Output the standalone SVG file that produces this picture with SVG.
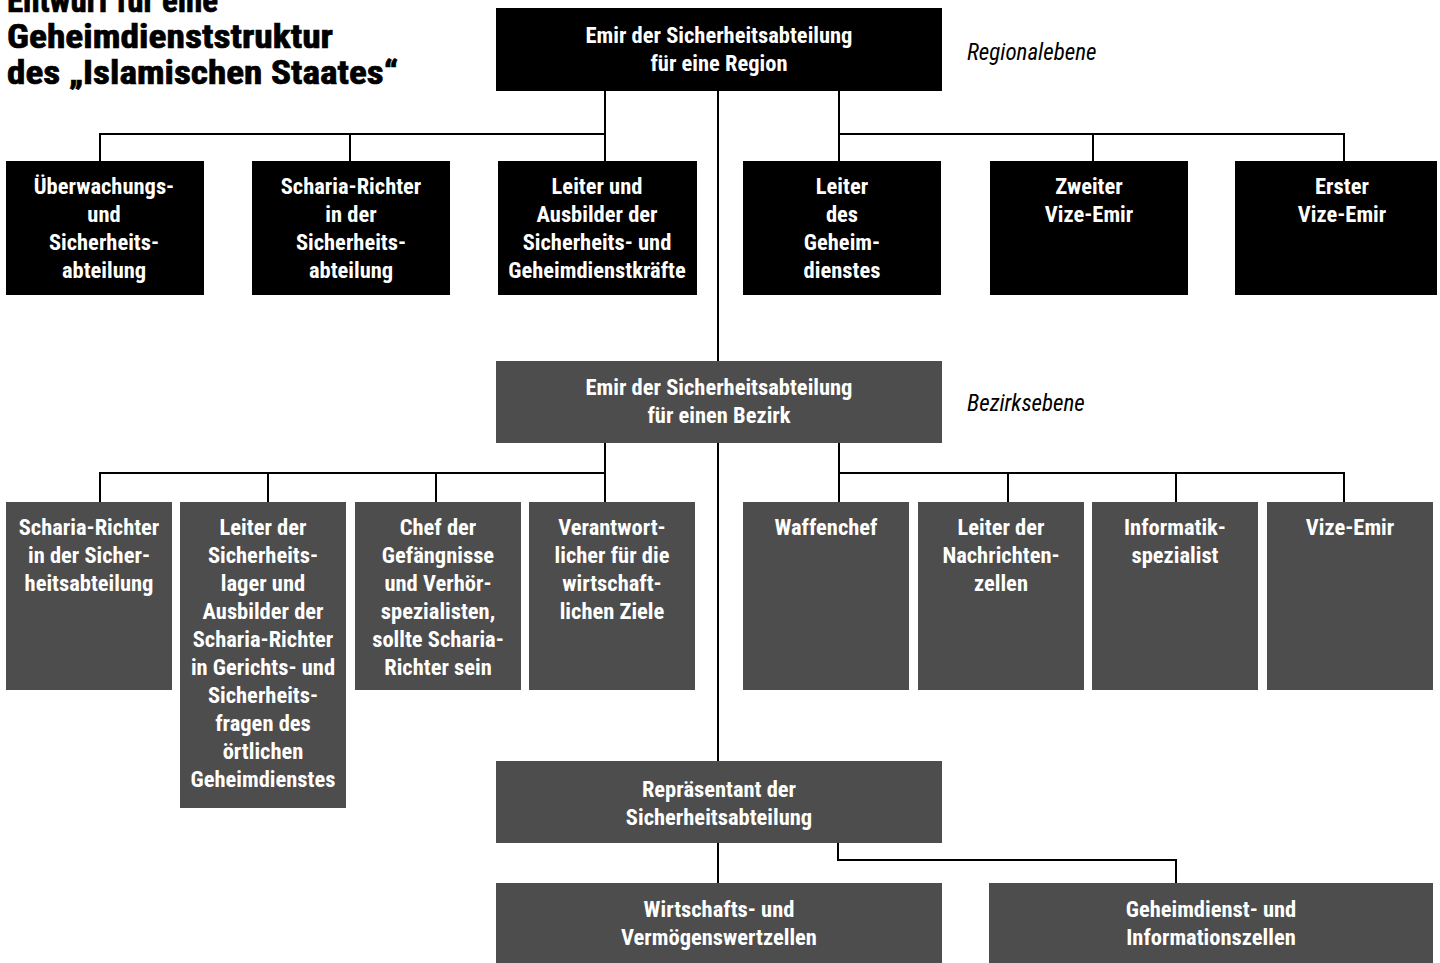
<svg xmlns="http://www.w3.org/2000/svg" width="1440" height="963" viewBox="0 0 1440 963">
<style>
.t{font-family:"Roboto Condensed","Liberation Sans Narrow","DejaVu Sans Condensed","Liberation Sans",sans-serif;font-size:22.5px;font-weight:bold;fill:#fff;text-anchor:middle}
.title{font-family:"Roboto Condensed","Liberation Sans Narrow","DejaVu Sans Condensed","Liberation Sans",sans-serif;font-size:33px;font-weight:bold;fill:#000;stroke:#000;stroke-width:0.7}
.lvl{font-family:"Roboto Condensed","Liberation Sans Narrow","DejaVu Sans Condensed","Liberation Sans",sans-serif;font-size:23px;font-style:italic;fill:#000}
.k{fill:#000}
.g{fill:#4d4d4d}
.c{fill:none;stroke:#000;stroke-width:2}
</style>
<rect width="1440" height="963" fill="#fff"/>
<g id="title">
<text class="title" x="7" y="12">Entwurf für eine</text>
<text class="title" x="7" y="48" textLength="326" lengthAdjust="spacingAndGlyphs">Geheimdienststruktur</text>
<text class="title" x="7" y="84" textLength="391" lengthAdjust="spacingAndGlyphs">des „Islamischen Staates“</text>
</g>
<g id="connectors">
<path class="c" d="M605 91V161M100 161V134H605M350 134V161M718 91V361M839 91V161M839 134H1344V161M1093 134V161"/>
<path class="c" d="M605 443V502M100 502V473H605M268 473V502M436 473V502M718 443V761M839 443V502M839 473H1344V502M1008 473V502M1176 473V502"/>
<path class="c" d="M718 843V883M838 843V860H1176V883"/>
</g>
<g id="regional">
<rect class="k" x="496" y="8" width="446" height="83"/>
<text class="t" x="719" y="43">Emir der Sicherheitsabteilung</text>
<text class="t" x="719" y="71">für eine Region</text>
</g>
<text id="lbl-regional" class="lvl" x="967" y="60">Regionalebene</text>
<g id="r1">
<rect class="k" x="6" y="161" width="198" height="134"/>
<text class="t" x="104" y="194">Überwachungs-</text><text class="t" x="104" y="222">und</text><text class="t" x="104" y="250">Sicherheits-</text><text class="t" x="104" y="278">abteilung</text>
</g>
<g id="r2">
<rect class="k" x="252" y="161" width="198" height="134"/>
<text class="t" x="351" y="194">Scharia-Richter</text><text class="t" x="351" y="222">in der</text><text class="t" x="351" y="250">Sicherheits-</text><text class="t" x="351" y="278">abteilung</text>
</g>
<g id="r3">
<rect class="k" x="498" y="161" width="199" height="134"/>
<text class="t" x="597" y="194">Leiter und</text><text class="t" x="597" y="222">Ausbilder der</text><text class="t" x="597" y="250">Sicherheits- und</text><text class="t" x="597" y="278">Geheimdienstkräfte</text>
</g>
<g id="r4">
<rect class="k" x="743" y="161" width="198" height="134"/>
<text class="t" x="842" y="194">Leiter</text><text class="t" x="842" y="222">des</text><text class="t" x="842" y="250">Geheim-</text><text class="t" x="842" y="278">dienstes</text>
</g>
<g id="r5">
<rect class="k" x="990" y="161" width="198" height="134"/>
<text class="t" x="1089" y="194">Zweiter</text><text class="t" x="1089" y="222">Vize-Emir</text>
</g>
<g id="r6">
<rect class="k" x="1235" y="161" width="202" height="134"/>
<text class="t" x="1342" y="194">Erster</text><text class="t" x="1342" y="222">Vize-Emir</text>
</g>
<g id="bezirk">
<rect class="g" x="496" y="361" width="446" height="82"/>
<text class="t" x="719" y="395">Emir der Sicherheitsabteilung</text>
<text class="t" x="719" y="423">für einen Bezirk</text>
</g>
<text id="lbl-bezirk" class="lvl" x="967" y="411">Bezirksebene</text>
<g id="b1">
<rect class="g" x="6" y="502" width="166" height="188"/>
<text class="t" x="89" y="535">Scharia-Richter</text><text class="t" x="89" y="563">in der Sicher-</text><text class="t" x="89" y="591">heitsabteilung</text>
</g>
<g id="b2">
<rect class="g" x="180" y="502" width="166" height="306"/>
<text class="t" x="263" y="535">Leiter der</text><text class="t" x="263" y="563">Sicherheits-</text><text class="t" x="263" y="591">lager und</text><text class="t" x="263" y="619">Ausbilder der</text><text class="t" x="263" y="647">Scharia-Richter</text><text class="t" x="263" y="675">in Gerichts- und</text><text class="t" x="263" y="703">Sicherheits-</text><text class="t" x="263" y="731">fragen des</text><text class="t" x="263" y="759">örtlichen</text><text class="t" x="263" y="787">Geheimdienstes</text>
</g>
<g id="b3">
<rect class="g" x="355" y="502" width="166" height="188"/>
<text class="t" x="438" y="535">Chef der</text><text class="t" x="438" y="563">Gefängnisse</text><text class="t" x="438" y="591">und Verhör-</text><text class="t" x="438" y="619">spezialisten,</text><text class="t" x="438" y="647">sollte Scharia-</text><text class="t" x="438" y="675">Richter sein</text>
</g>
<g id="b4">
<rect class="g" x="529" y="502" width="166" height="188"/>
<text class="t" x="612" y="535">Verantwort-</text><text class="t" x="612" y="563">licher für die</text><text class="t" x="612" y="591">wirtschaft-</text><text class="t" x="612" y="619">lichen Ziele</text>
</g>
<g id="b5">
<rect class="g" x="743" y="502" width="166" height="188"/>
<text class="t" x="826" y="535">Waffenchef</text>
</g>
<g id="b6">
<rect class="g" x="918" y="502" width="166" height="188"/>
<text class="t" x="1001" y="535">Leiter der</text><text class="t" x="1001" y="563">Nachrichten-</text><text class="t" x="1001" y="591">zellen</text>
</g>
<g id="b7">
<rect class="g" x="1092" y="502" width="166" height="188"/>
<text class="t" x="1175" y="535">Informatik-</text><text class="t" x="1175" y="563">spezialist</text>
</g>
<g id="b8">
<rect class="g" x="1267" y="502" width="166" height="188"/>
<text class="t" x="1350" y="535">Vize-Emir</text>
</g>
<g id="rep">
<rect class="g" x="496" y="761" width="446" height="82"/>
<text class="t" x="719" y="797">Repräsentant der</text>
<text class="t" x="719" y="825">Sicherheitsabteilung</text>
</g>
<g id="wirt">
<rect class="g" x="496" y="883" width="446" height="80"/>
<text class="t" x="719" y="917">Wirtschafts- und</text>
<text class="t" x="719" y="945">Vermögenswertzellen</text>
</g>
<g id="geh">
<rect class="g" x="989" y="883" width="444" height="80"/>
<text class="t" x="1211" y="917">Geheimdienst- und</text>
<text class="t" x="1211" y="945">Informationszellen</text>
</g>
</svg>
